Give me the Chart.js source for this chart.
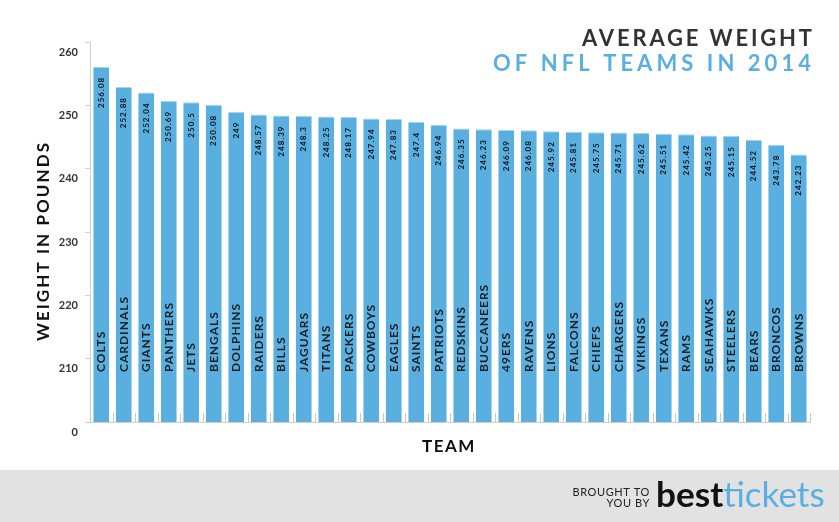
<!DOCTYPE html>
<html lang="en">
<head>
    <meta charset="UTF-8">
    <title>Average Weight of NFL Teams in 2014</title>
    <script src="https://cdn.jsdelivr.net/npm/chart.js"></script>
    <style>
        html, body { margin: 0; padding: 0; background: #fff; }
        #wrap { width: 839px; height: 522px; position: relative; }
    </style>
</head>
<body>
    <div id="wrap"><canvas id="weightChart" width="839" height="522"></canvas></div>

    <script>
        // data
        const teams = ['COLTS', 'CARDINALS', 'GIANTS', 'PANTHERS', 'JETS', 'BENGALS', 'DOLPHINS', 'RAIDERS',
            'BILLS', 'JAGUARS', 'TITANS', 'PACKERS', 'COWBOYS', 'EAGLES', 'SAINTS', 'PATRIOTS',
            'REDSKINS', 'BUCCANEERS', '49ERS', 'RAVENS', 'LIONS', 'FALCONS', 'CHIEFS', 'CHARGERS',
            'VIKINGS', 'TEXANS', 'RAMS', 'SEAHAWKS', 'STEELERS', 'BEARS', 'BRONCOS', 'BROWNS'];
        const weights = [256.08, 252.88, 252.04, 250.69, 250.5, 250.08, 249, 248.57,
            248.39, 248.3, 248.25, 248.17, 247.94, 247.83, 247.4, 246.94,
            246.35, 246.23, 246.09, 246.08, 245.92, 245.81, 245.75, 245.71,
            245.62, 245.51, 245.42, 245.25, 245.15, 244.52, 243.78, 242.23];
        const yTicks = [200, 210, 220, 230, 240, 250, 260];
        const titleLines = ['AVERAGE WEIGHT', 'OF NFL TEAMS IN 2014'];

        const BLUE = '#5aafe1';
        const FONT = 'Lato, "DejaVu Sans", sans-serif';

        function spaced(ctx, px) { ctx.letterSpacing = px + 'px'; }

        // letter spacing so that a line of text spans about `target` px
        function fitSpacing(ctx, text, target) {
            spaced(ctx, 0);
            const w = ctx.measureText(text).width;
            const s = (target - w) / (text.length - 1);
            spaced(ctx, s);
            return s;
        }

        const decorations = {
            id: 'decorations',
            beforeDraw(chart) {
                const ctx = chart.ctx;
                ctx.save();
                ctx.fillStyle = '#fff';
                ctx.fillRect(0, 0, chart.width, chart.height);
                // footer band
                ctx.fillStyle = '#e2e2e2';
                ctx.fillRect(0, 470, chart.width, 52);
                ctx.restore();
            },
            afterDatasetsDraw(chart) {
                const ctx = chart.ctx;
                const meta = chart.getDatasetMeta(0);
                const xs = chart.scales.x;
                const area = chart.chartArea;
                ctx.save();

                // small gray marks between the bars at the bottom
                ctx.strokeStyle = '#c8c8c8';
                ctx.lineWidth = 1;
                const half = (xs.getPixelForValue(1) - xs.getPixelForValue(0)) / 2;
                for (let i = 0; i <= teams.length; i++) {
                    const x = Math.round(xs.getPixelForValue(0) - half + i * half * 2) + 0.5;
                    ctx.beginPath();
                    ctx.moveTo(x, area.bottom);
                    ctx.lineTo(x, area.bottom - 9);
                    ctx.stroke();
                }

                meta.data.forEach((bar, i) => {
                    // value, rotated, near the top of the bar
                    ctx.save();
                    ctx.translate(bar.x, bar.y + 10);
                    ctx.rotate(-Math.PI / 2);
                    ctx.fillStyle = '#111';
                    ctx.font = 'bold 8px ' + FONT;
                    spaced(ctx, 1);
                    ctx.textAlign = 'right';
                    ctx.textBaseline = 'middle';
                    ctx.fillText(String(weights[i]), 0, 0);
                    ctx.restore();

                    // team name, rotated, near the bottom
                    ctx.save();
                    ctx.translate(bar.x, 372);
                    ctx.rotate(-Math.PI / 2);
                    ctx.fillStyle = '#1e1e1e';
                    ctx.font = 'bold 12px ' + FONT;
                    spaced(ctx, 1);
                    ctx.textAlign = 'left';
                    ctx.textBaseline = 'middle';
                    ctx.fillText(teams[i], 0, 0);
                    ctx.restore();
                });

                ctx.restore();
            },
            afterDraw(chart) {
                const ctx = chart.ctx;
                ctx.save();

                // titles (right aligned; trailing spacing compensated)
                ctx.textAlign = 'right';
                ctx.textBaseline = 'alphabetic';
                ctx.font = 'bold 22px ' + FONT;
                let s = fitSpacing(ctx, titleLines[0], 230);
                ctx.fillStyle = '#333';
                ctx.fillText(titleLines[0], 812 + s, 46);
                s = fitSpacing(ctx, titleLines[1], 318);
                ctx.fillStyle = BLUE;
                ctx.fillText(titleLines[1], 811 + s, 71);

                // axis titles
                ctx.fillStyle = '#111';
                ctx.font = 'bold 17px ' + FONT;
                spaced(ctx, 1.5);
                ctx.textAlign = 'center';
                ctx.textBaseline = 'middle';
                ctx.fillText('TEAM', 449, 447);
                ctx.save();
                ctx.translate(44, 241);
                ctx.rotate(-Math.PI / 2);
                fitSpacing(ctx, 'WEIGHT IN POUNDS', 198);
                ctx.fillText('WEIGHT IN POUNDS', 0, 0);
                ctx.restore();

                // footer credit
                ctx.fillStyle = '#222';
                ctx.font = '11px ' + FONT;
                spaced(ctx, 0.6);
                ctx.textAlign = 'right';
                ctx.fillText('BROUGHT TO', 650, 492);
                ctx.fillText('YOU BY', 650, 503);

                spaced(ctx, 0);
                let size = 36;
                ctx.font = 'bold ' + size + 'px ' + FONT;
                const w = ctx.measureText('besttickets').width;
                size = size * 170 / w;
                ctx.font = 'bold ' + size + 'px ' + FONT;
                ctx.textAlign = 'left';
                ctx.textBaseline = 'alphabetic';
                ctx.fillStyle = '#111';
                ctx.fillText('best', 656, 507);
                const bw = ctx.measureText('best').width;
                ctx.fillStyle = BLUE;
                ctx.font = size + 'px ' + FONT;
                ctx.fillText('tickets', 656 + bw, 507);

                ctx.restore();
            }
        };

        const ctx = document.getElementById('weightChart').getContext('2d');
        new Chart(ctx, {
            type: 'bar',
            data: {
                labels: teams,
                datasets: [{
                    data: weights,
                    backgroundColor: BLUE,
                    borderColor: '#a6d3f0',
                    borderWidth: { top: 1, left: 0, right: 0, bottom: 0 },
                    borderSkipped: 'bottom',
                    barPercentage: 0.71,
                    categoryPercentage: 1
                }]
            },
            options: {
                responsive: false,
                animation: false,
                layout: { padding: { top: 42, right: 29, bottom: 100, left: 0 } },
                plugins: { legend: { display: false }, tooltip: { enabled: false } },
                scales: {
                    x: {
                        grid: { display: false },
                        ticks: { display: false },
                        border: { display: true, color: '#cfcfcf' },
                        afterFit(s) { s.height = 0; }
                    },
                    y: {
                        min: 200,
                        max: 260,
                        afterBuildTicks(s) { s.ticks = yTicks.map(v => ({ value: v })); },
                        afterFit(s) { s.width = 90; },
                        grid: { drawOnChartArea: false, drawTicks: true, tickLength: 5, color: '#cfcfcf' },
                        border: { display: true, color: '#cfcfcf' },
                        ticks: {
                            labelOffset: 10,
                            padding: 7,
                            color: '#333',
                            font: { family: FONT, size: 11, weight: 'bold' },
                            callback: v => (v === 200 ? '0' : v)
                        }
                    }
                }
            },
            plugins: [decorations]
        });
    </script>
</body>
</html>
